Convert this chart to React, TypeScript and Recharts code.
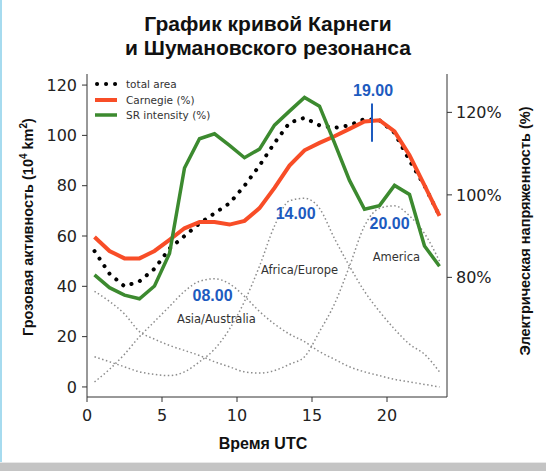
import { ComposedChart, Line, XAxis, YAxis, ReferenceLine, ReferenceDot } from "recharts";

// hourly values, UTC hour centres
const hours = [0.5, 1.5, 2.5, 3.5, 4.5, 5.5, 6.5, 7.5, 8.5, 9.5, 10.5, 11.5, 12.5, 13.5, 14.5, 15.5, 16.5, 17.5, 18.5, 19.5, 20.5, 21.5, 22.5, 23.5];

// thunderstorm area, 10^4 km2 (left axis)
const totalArea = [54, 45, 40, 42, 47, 55, 60, 65, 69, 73, 80, 88, 97, 105, 107, 104, 103, 104, 106.5, 106, 101, 90, 80, 68];
const asiaAustralia = [2, 7, 13, 20, 26, 32, 38, 42, 43, 41, 36, 30, 25, 21, 18, 14, 11, 8, 6, 4.5, 3, 2, 1, 0];
const africaEurope = [12, 10, 8, 6, 5, 4.5, 6, 10, 15, 23, 34, 48, 64, 74, 75, 71, 59, 48, 38, 30, 23, 17, 13, 6];
const america = [38, 34, 29, 22, 19, 16.5, 14.5, 12.5, 10, 8, 6, 5.5, 6.5, 9, 12, 22, 33, 48, 64, 71, 72, 68, 61, 50];

// percent of mean (right axis)
const carnegie = [89.8, 86.4, 84.6, 84.6, 86.4, 89.1, 91.9, 93.4, 93.4, 92.8, 93.7, 96.8, 101.7, 107.1, 110.8, 112.6, 114.2, 116.0, 117.8, 118.1, 115.4, 109.6, 102.3, 94.9];
const srIntensity = [80.6, 77.5, 75.7, 74.8, 77.9, 85.8, 106.5, 113.6, 114.8, 112.0, 109.0, 111.1, 116.9, 120.3, 123.6, 121.5, 112.6, 103.5, 96.5, 97.4, 102.3, 100.1, 87.6, 82.7];

const xTicks = [0, 5, 10, 15, 20];
const leftTicks = [0, 20, 40, 60, 80, 100, 120];
const rightTicks = [80, 100, 120];

const peakLabels = [
  { text: "19.00", hour: 19.07, value: 118 },
  { text: "14.00", hour: 13.91, value: 68.9 },
  { text: "20.00", hour: 20.17, value: 65 },
  { text: "08.00", hour: 8.37, value: 36.6 },
];
const regionLabels = [
  { text: "Asia/Australia", hour: 8.63, value: 27 },
  { text: "Africa/Europe", hour: 14.17, value: 46.7 },
  { text: "America", hour: 20.63, value: 51.6 },
];

const data = hours.map((h, i) => ({
  hour: h,
  total: totalArea[i],
  asia: asiaAustralia[i],
  africa: africaEurope[i],
  america: america[i],
  carnegie: carnegie[i],
  sr: srIntensity[i],
}));

const BLUE = "#1d5bbf";
const RED = "#f84d27";
const GREEN = "#3c8a2f";
const GRAY = "#8c8c8c";
const AXIS = "#333";
const tickFont = { fontSize: 16, fill: "#222", fontFamily: "DejaVu Sans" };

export default function App() {
  return (
    <div style={{ position: "absolute", left: 0, top: 0, width: 546, height: 471, background: "#fff", overflow: "hidden" }}>
      <div style={{ position: "absolute", left: 0, top: 0, width: 2, height: 462, background: "#a6dbef" }} />
      <div style={{ position: "absolute", left: 0, top: 462, width: 546, height: 1, background: "#e8e8e8" }} />
      <div style={{ position: "absolute", left: 0, top: 463, width: 546, height: 8, background: "#c4c4c4" }} />

      <div style={{ position: "absolute", left: 0, top: 0 }}>
        <ComposedChart width={546} height={471} data={data} margin={{ top: 74, right: 50, bottom: 44, left: 40 }}>
          <XAxis
            dataKey="hour"
            type="number"
            domain={[0, 24]}
            ticks={xTicks}
            height={30}
            tickSize={5}
            tickMargin={8}
            tick={tickFont}
            stroke={AXIS}
            allowDataOverflow
          />
          <XAxis xAxisId="top" orientation="top" dataKey="hour" type="number" domain={[0, 24]} height={0} tick={false} tickLine={false} stroke={AXIS} />
          <YAxis
            yAxisId="left"
            domain={[-4, 124.4]}
            ticks={leftTicks}
            width={47}
            tickSize={5}
            tickMargin={5}
            tick={tickFont}
            stroke={AXIS}
            allowDataOverflow
          />
          <YAxis
            yAxisId="right"
            orientation="right"
            domain={[51, 129.3]}
            ticks={rightTicks}
            width={49}
            tickSize={5}
            tickMargin={4}
            tick={tickFont}
            tickFormatter={(v: number) => `${v}%`}
            stroke={AXIS}
            allowDataOverflow
          />

          <Line yAxisId="left" dataKey="asia" type="monotone" stroke={GRAY} strokeWidth={1.5} strokeDasharray="1.5 2.5" dot={false} isAnimationActive={false} />
          <Line yAxisId="left" dataKey="africa" type="monotone" stroke={GRAY} strokeWidth={1.5} strokeDasharray="1.5 2.5" dot={false} isAnimationActive={false} />
          <Line yAxisId="left" dataKey="america" type="monotone" stroke={GRAY} strokeWidth={1.5} strokeDasharray="1.5 2.5" dot={false} isAnimationActive={false} />
          <Line yAxisId="left" dataKey="total" type="linear" stroke="#000" strokeWidth={4} strokeLinecap="round" strokeDasharray="0.1 8.9" dot={false} isAnimationActive={false} />
          <Line yAxisId="right" dataKey="carnegie" type="linear" stroke={RED} strokeWidth={4} dot={false} isAnimationActive={false} />
          <Line yAxisId="right" dataKey="sr" type="linear" stroke={GREEN} strokeWidth={3.5} dot={false} isAnimationActive={false} />

          <ReferenceLine yAxisId="left" segment={[{ x: 19, y: 97.5 }, { x: 19, y: 112.7 }]} stroke={BLUE} strokeWidth={2} />

          {peakLabels.map((l) => (
            <ReferenceDot
              key={l.text}
              yAxisId="left"
              x={l.hour}
              y={l.value}
              r={0}
              stroke="none"
              fill="none"
              label={{ value: l.text, position: "center", fill: BLUE, fontSize: 16, fontWeight: 700, fontFamily: "Liberation Sans" }}
            />
          ))}
          {regionLabels.map((l) => (
            <ReferenceDot
              key={l.text}
              yAxisId="left"
              x={l.hour}
              y={l.value}
              r={0}
              stroke="none"
              fill="none"
              label={{ value: l.text, position: "center", fill: "#333", fontSize: 11.5, fontFamily: "DejaVu Sans" }}
            />
          ))}
        </ComposedChart>
      </div>

      <svg width={546} height={471} style={{ position: "absolute", left: 0, top: 0, pointerEvents: "none" }}>
        <g fontFamily="Liberation Sans" fontWeight={700} fill="#111">
          <text x={268} y={31} textAnchor="middle" fontSize={21}>График кривой Карнеги</text>
          <text x={268} y={55} textAnchor="middle" fontSize={21}>и Шумановского резонанса</text>
          <text x={263} y={449} textAnchor="middle" fontSize={16}>Время UTC</text>
          <text transform="translate(33,227) rotate(-90)" textAnchor="middle" fontSize={14.5}>
            Грозовая активность (10<tspan dy={-6} fontSize={10}>4</tspan>
            <tspan dy={6}> km</tspan>
            <tspan dy={-6} fontSize={10}>2</tspan>
            <tspan dy={6}>)</tspan>
          </text>
          <text transform="translate(530,231) rotate(-90)" textAnchor="middle" fontSize={14.5}>
            Электрическая напряженность (%)
          </text>
        </g>
        <g fontFamily="DejaVu Sans" fontSize={10.5} fill="#333">
          <line x1={97} x2={117} y1={84} y2={84} stroke="#000" strokeWidth={4} strokeLinecap="round" strokeDasharray="0.1 8.9" />
          <text x={126} y={88}>total area</text>
          <line x1={95} x2={117} y1={100} y2={100} stroke={RED} strokeWidth={4} />
          <text x={126} y={104}>Carnegie (%)</text>
          <line x1={95} x2={117} y1={115} y2={115} stroke={GREEN} strokeWidth={3.5} />
          <text x={126} y={119}>SR intensity (%)</text>
        </g>
      </svg>
    </div>
  );
}
